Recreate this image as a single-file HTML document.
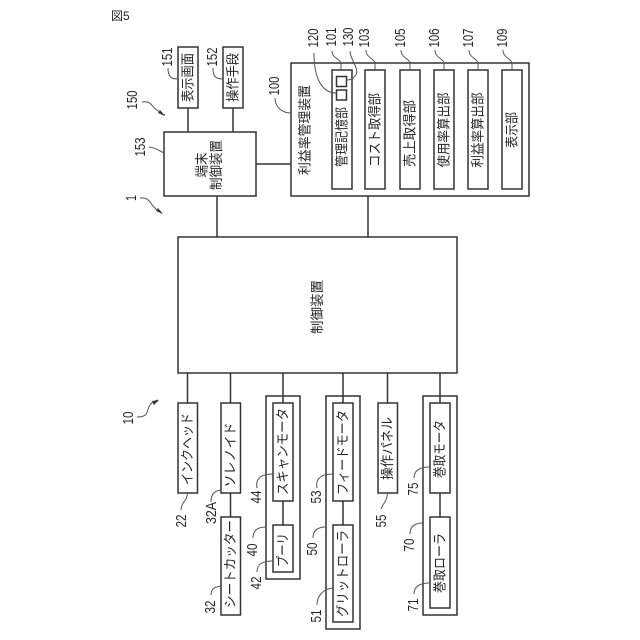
<!DOCTYPE html>
<html><head><meta charset="utf-8"><style>
html,body{margin:0;padding:0;background:#fff}
svg{display:block}
text{font-family:"Liberation Sans","Noto Sans CJK JP",sans-serif;fill:#262626;font-size:13.5px}
.n text{font-size:14.5px}
.b{fill:#fff;stroke:#333;stroke-width:1.5}
.g{fill:none;stroke:#333;stroke-width:1.5}
.l{fill:none;stroke:#555;stroke-width:1}
</style></head><body>
<svg width="640" height="640" viewBox="0 0 640 640" xmlns="http://www.w3.org/2000/svg">
<text x="111" y="20" style="font-size:12px">図5</text>

<!-- connectors -->
<g class="g">
<path d="M188 108V132M233 108V132M217 196V237M256 164H291M368 196V237"/>
<path d="M187.500 373V403M230.500 373V517M283 373V525M343 373V525M387.500 373V403M440 373V517"/>
</g>

<!-- top boxes -->
<rect class="b" x="178" y="47" width="20" height="61"/>
<rect class="b" x="223" y="47" width="20" height="61"/>
<rect class="b" x="164" y="132" width="92" height="64"/>
<rect class="b" x="291" y="63" width="238" height="133"/>
<rect class="b" x="332" y="70" width="20" height="119"/>
<rect class="b" x="365" y="70" width="20" height="119"/>
<rect class="b" x="400" y="70" width="20" height="119"/>
<rect class="b" x="434" y="70" width="20" height="119"/>
<rect class="b" x="468" y="70" width="20" height="119"/>
<rect class="b" x="502" y="70" width="20" height="119"/>
<rect class="b" x="336.500" y="76.500" width="10" height="10"/>
<rect class="b" x="336.500" y="90" width="10" height="10"/>
<rect class="b" x="178" y="237" width="279" height="136"/>

<!-- bottom boxes -->
<rect class="g" x="266" y="396" width="34" height="183"/>
<rect class="g" x="326" y="396" width="34" height="233"/>
<rect class="g" x="423" y="396" width="34" height="219"/>
<rect class="b" x="178" y="403" width="19.500" height="90"/>
<rect class="b" x="221" y="403" width="19.500" height="90"/>
<rect class="b" x="221" y="517" width="19.500" height="98"/>
<rect class="b" x="273" y="403" width="20" height="98"/>
<rect class="b" x="273" y="525" width="20" height="47"/>
<rect class="b" x="333" y="403" width="20" height="98"/>
<rect class="b" x="333" y="525" width="20" height="97"/>
<rect class="b" x="378" y="403" width="19.500" height="90"/>
<rect class="b" x="430" y="403" width="20" height="90"/>
<rect class="b" x="430" y="517" width="20" height="91"/>

<!-- leaders -->
<g class="l">
<path d="M168 68C168 76 170 79 178 79"/>
<path d="M213 68C213 76 215 79 223 79"/>
<path d="M142 102C152 100 152 108 157 110C160 112 161 114 165 115"/>
<path d="M149 147C156 148 158 150 164 153"/>
<path d="M140 198C150 197 150 204 155 208C158 211 159 212 162 213"/>
<path d="M275 98C275 107 282 113 291 113"/>
<path d="M314 53C314 75 320 93 336.500 93"/>
<path d="M332 51C332 58 339 58 341 63V70"/>
<path d="M350 51C350 60 361 70 355 76C353 79 350 80 346.500 80"/>
<path d="M366 50C366 58 374 58 375 63V70"/>
<path d="M401 50C401 58 409 58 410 63V70"/>
<path d="M435 50C435 58 443 58 444 63V70"/>
<path d="M469 50C469 58 477 58 478 63V70"/>
<path d="M503 50C503 58 511 58 512 63V70"/>
<path d="M137 417C150 417 146 410 150 405C152 402 155 401 158 400"/>
<path d="M181 510C182 500 187 502 187.500 493"/>
<path d="M211 502C211 494 214 491 221 490"/>
<path d="M211 595C211 589 214 587 221 586"/>
<path d="M257 488C255 478 262 474 273 474"/>
<path d="M253 538C253 531 257 527 266 527"/>
<path d="M257 572C257 564 262 561 273 561"/>
<path d="M317 488C315 478 322 474 333 474"/>
<path d="M313 538C313 531 317 527 326 527"/>
<path d="M317 605C317 597 322 589 333 588"/>
<path d="M381 509C383 503 387 502 387.500 493"/>
<path d="M414 478C414 470 420 467 430 467"/>
<path d="M410 534C410 527 414 523 423 523"/>
<path d="M414 594C414 586 420 583 430 583"/>
</g>
<g fill="#333">
<path d="M165 116L158 113L160 110Z"/>
<path d="M163 214L156 211L158 208Z"/>
<path d="M159 400L152 401L154 405Z"/>
</g>

<!-- box labels -->
<g text-anchor="middle" dominant-baseline="central">
<text transform="translate(188,77.500) rotate(-90)" textLength="49" lengthAdjust="spacingAndGlyphs">表示画面</text>
<text transform="translate(233,77.500) rotate(-90)" textLength="49" lengthAdjust="spacingAndGlyphs">操作手段</text>
<text transform="translate(202,165) rotate(-90)" textLength="25" lengthAdjust="spacingAndGlyphs">端末</text>
<text transform="translate(216.500,165) rotate(-90)" textLength="50" lengthAdjust="spacingAndGlyphs">制御装置</text>
<text transform="translate(305,130) rotate(-90)" textLength="90" lengthAdjust="spacingAndGlyphs">利益率管理装置</text>
<text transform="translate(342,137) rotate(-90)" textLength="60" lengthAdjust="spacingAndGlyphs">管理記憶部</text>
<text transform="translate(375,130) rotate(-90)" textLength="74" lengthAdjust="spacingAndGlyphs">コスト取得部</text>
<text transform="translate(410,133.500) rotate(-90)" textLength="67" lengthAdjust="spacingAndGlyphs">売上取得部</text>
<text transform="translate(444,130) rotate(-90)" textLength="75" lengthAdjust="spacingAndGlyphs">使用率算出部</text>
<text transform="translate(478,130) rotate(-90)" textLength="75" lengthAdjust="spacingAndGlyphs">利益率算出部</text>
<text transform="translate(512,130) rotate(-90)" textLength="36" lengthAdjust="spacingAndGlyphs">表示部</text>
<text transform="translate(317.500,307) rotate(-90)" textLength="54">制御装置</text>
<text transform="translate(187.500,449) rotate(-90)" textLength="72" lengthAdjust="spacingAndGlyphs">インクヘッド</text>
<text transform="translate(230.500,455) rotate(-90)" textLength="65" lengthAdjust="spacingAndGlyphs">ソレノイド</text>
<text transform="translate(230.500,564) rotate(-90)" textLength="88" lengthAdjust="spacingAndGlyphs">シートカッター</text>
<text transform="translate(283,451.500) rotate(-90)" textLength="87" lengthAdjust="spacingAndGlyphs">スキャンモータ</text>
<text transform="translate(283,550) rotate(-90)" textLength="34" lengthAdjust="spacingAndGlyphs">プーリ</text>
<text transform="translate(343,452.500) rotate(-90)" textLength="85" lengthAdjust="spacingAndGlyphs">フィードモータ</text>
<text transform="translate(343,573.500) rotate(-90)" textLength="87" lengthAdjust="spacingAndGlyphs">グリットローラ</text>
<text transform="translate(387.500,448.500) rotate(-90)" textLength="63" lengthAdjust="spacingAndGlyphs">操作パネル</text>
<text transform="translate(440,449) rotate(-90)" textLength="58" lengthAdjust="spacingAndGlyphs">巻取モータ</text>
<text transform="translate(440,563) rotate(-90)" textLength="60" lengthAdjust="spacingAndGlyphs">巻取ローラ</text>
</g>

<!-- reference numbers -->
<g class="n" text-anchor="middle" dominant-baseline="central">
<text transform="translate(168,57) rotate(-90)" textLength="19" lengthAdjust="spacingAndGlyphs">151</text>
<text transform="translate(213,57) rotate(-90)" textLength="19" lengthAdjust="spacingAndGlyphs">152</text>
<text transform="translate(133,100) rotate(-90)" textLength="19" lengthAdjust="spacingAndGlyphs">150</text>
<text transform="translate(141,147) rotate(-90)" textLength="19" lengthAdjust="spacingAndGlyphs">153</text>
<text transform="translate(132,198) rotate(-90)" textLength="6" lengthAdjust="spacingAndGlyphs">1</text>
<text transform="translate(275,86) rotate(-90)" textLength="19" lengthAdjust="spacingAndGlyphs">100</text>
<text transform="translate(314,38) rotate(-90)" textLength="19" lengthAdjust="spacingAndGlyphs">120</text>
<text transform="translate(332,37) rotate(-90)" textLength="19" lengthAdjust="spacingAndGlyphs">101</text>
<text transform="translate(349,37) rotate(-90)" textLength="19" lengthAdjust="spacingAndGlyphs">130</text>
<text transform="translate(365,38) rotate(-90)" textLength="19" lengthAdjust="spacingAndGlyphs">103</text>
<text transform="translate(401,38) rotate(-90)" textLength="19" lengthAdjust="spacingAndGlyphs">105</text>
<text transform="translate(435,38) rotate(-90)" textLength="19" lengthAdjust="spacingAndGlyphs">106</text>
<text transform="translate(469,38) rotate(-90)" textLength="19" lengthAdjust="spacingAndGlyphs">107</text>
<text transform="translate(503,38) rotate(-90)" textLength="19" lengthAdjust="spacingAndGlyphs">109</text>
<text transform="translate(129,418) rotate(-90)" textLength="13" lengthAdjust="spacingAndGlyphs">10</text>
<text transform="translate(182,521) rotate(-90)" textLength="13" lengthAdjust="spacingAndGlyphs">22</text>
<text transform="translate(212,513) rotate(-90)" textLength="22" lengthAdjust="spacingAndGlyphs">32A</text>
<text transform="translate(211,607) rotate(-90)" textLength="13" lengthAdjust="spacingAndGlyphs">32</text>
<text transform="translate(257,497) rotate(-90)" textLength="13" lengthAdjust="spacingAndGlyphs">44</text>
<text transform="translate(253,550) rotate(-90)" textLength="13" lengthAdjust="spacingAndGlyphs">40</text>
<text transform="translate(257,583) rotate(-90)" textLength="13" lengthAdjust="spacingAndGlyphs">42</text>
<text transform="translate(317,497) rotate(-90)" textLength="13" lengthAdjust="spacingAndGlyphs">53</text>
<text transform="translate(313,549) rotate(-90)" textLength="13" lengthAdjust="spacingAndGlyphs">50</text>
<text transform="translate(317,616) rotate(-90)" textLength="13" lengthAdjust="spacingAndGlyphs">51</text>
<text transform="translate(382,521) rotate(-90)" textLength="13" lengthAdjust="spacingAndGlyphs">55</text>
<text transform="translate(414,489) rotate(-90)" textLength="13" lengthAdjust="spacingAndGlyphs">75</text>
<text transform="translate(410,545) rotate(-90)" textLength="13" lengthAdjust="spacingAndGlyphs">70</text>
<text transform="translate(414,605) rotate(-90)" textLength="13" lengthAdjust="spacingAndGlyphs">71</text>
</g>
</svg>
</body></html>
